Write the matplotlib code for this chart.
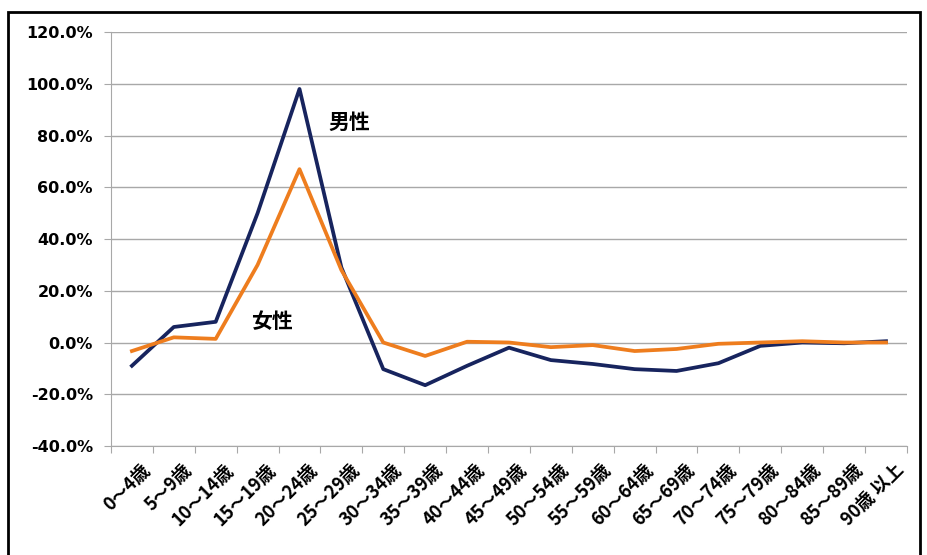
import matplotlib.pyplot as plt
from matplotlib.patches import Rectangle

plt.rcParams['font.family'] = ['Noto Sans CJK JP', 'DejaVu Sans']

categories = ['0～4歳', '5～9歳', '10～14歳', '15～19歳', '20～24歳', '25～29歳',
              '30～34歳', '35～39歳', '40～44歳', '45～49歳', '50～54歳', '55～59歳',
              '60～64歳', '65～69歳', '70～74歳', '75～79歳', '80～84歳', '85～89歳',
              '90歳 以上']
male = [-9.0, 6.0, 8.0, 50.0, 98.0, 29.0, -10.3, -16.5, -9.0, -2.0, -6.8, -8.3,
        -10.3, -11.0, -8.0, -1.3, 0.0, -0.3, 0.5]
female = [-3.3, 2.0, 1.4, 30.0, 67.0, 28.0, 0.0, -5.2, 0.3, 0.0, -1.8, -1.0,
          -3.3, -2.5, -0.5, 0.0, 0.5, 0.0, 0.0]
yticks = [-40, -20, 0, 20, 40, 60, 80, 100, 120]

fig = plt.figure(figsize=(9.27, 5.55), dpi=100)
ax = fig.add_axes([0.1197, 0.1964, 0.8587, 0.7459])

x = range(len(categories))
ax.plot(x, male, color='#17245e', lw=2.7, zorder=3)
ax.plot(x, female, color='#ee7d1e', lw=2.7, zorder=3)

ax.set_xlim(-0.5, len(categories) - 0.5)
ax.set_ylim(-40, 120)
ax.set_yticks(yticks)
ax.set_yticklabels(['%.1f%%' % v for v in yticks], fontsize=11.5, fontweight='bold',
                   family='DejaVu Sans')
ax.yaxis.grid(True, color='#a8a8a8', lw=1)
ax.set_axisbelow(True)

ax.set_xticks([i + 0.5 for i in range(-1, len(categories))])
ax.set_xticklabels([])
ax.tick_params(axis='x', length=5, color='#a8a8a8')
ax.tick_params(axis='y', length=5, color='#a8a8a8', pad=8)
for i, c in enumerate(categories):
    ax.text(i + 0.2, -45.5, c, rotation=45, ha='right', va='top', fontsize=13,
            fontweight='bold', rotation_mode='anchor')

for s in ['top', 'right']:
    ax.spines[s].set_visible(False)
ax.spines['left'].set_color('#a8a8a8')
ax.spines['bottom'].set_color('#a8a8a8')

ax.text(5.2, 85, '男性', fontsize=15, fontweight='bold', ha='center', va='center')
ax.text(3.35, 8, '女性', fontsize=15, fontweight='bold', ha='center', va='center')

fig.patches.append(Rectangle((8 / 927, -0.05), 912 / 927, 1 - 12 / 555 + 0.05,
                             transform=fig.transFigure, fill=False, ec='black', lw=2))

fig.savefig('out.png', dpi=100)
